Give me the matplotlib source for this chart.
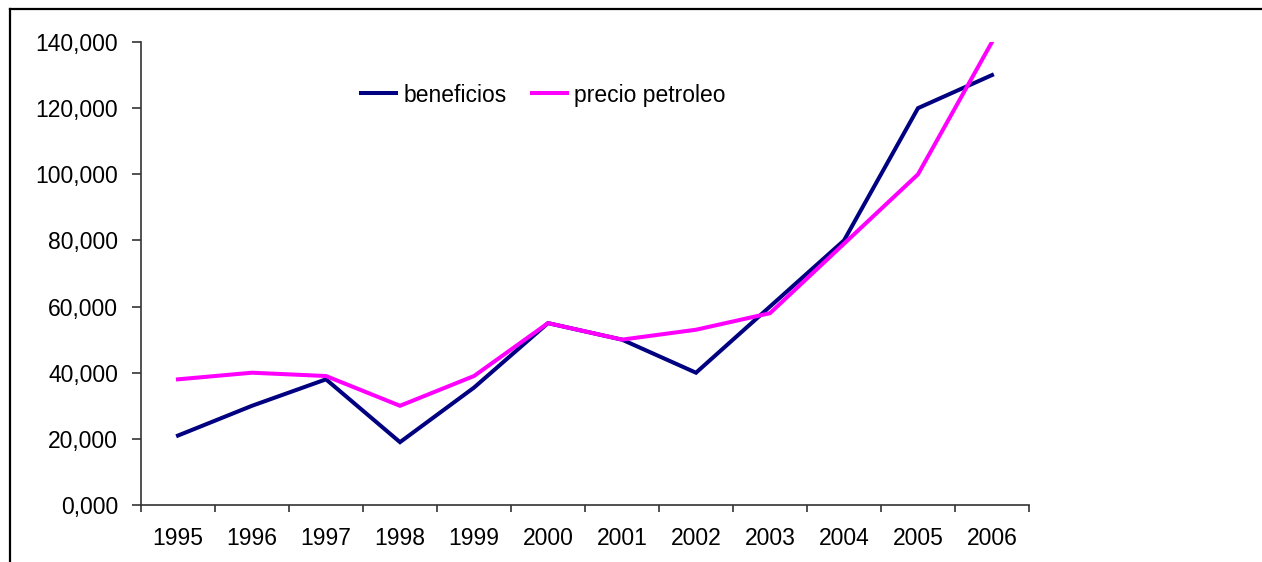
import matplotlib.pyplot as plt
from matplotlib.lines import Line2D
from matplotlib.ticker import FuncFormatter

# datos (eje en miles, formato con coma decimal)
anios = ['1995', '1996', '1997', '1998', '1999', '2000',
         '2001', '2002', '2003', '2004', '2005', '2006']
beneficios = [21, 30, 38, 19, 35.5, 55, 50, 40, 60, 80, 120, 130]
precio_petroleo = [38, 40, 39, 30, 39, 55, 50, 53, 58, 79, 100, 140]

plt.rcParams['font.family'] = ['Liberation Sans', 'DejaVu Sans']
fs = 16.5

W, H = 1262, 562
fig = plt.figure(figsize=(W / 100, H / 100), dpi=100)
ax = fig.add_axes([141 / W, (H - 505) / H, (1029 - 141) / W, (505 - 42) / H])

x = [i + 0.5 for i in range(len(anios))]
ax.plot(x, beneficios, color='#000080', lw=2.9, label='beneficios', solid_joinstyle='miter')
ax.plot(x, precio_petroleo, color='#FF00FF', lw=2.9, label='precio petroleo', solid_joinstyle='miter')

ax.set_xlim(0, len(anios))
ax.set_ylim(0, 140)
ax.set_yticks(range(0, 141, 20))
ax.yaxis.set_major_formatter(FuncFormatter(lambda v, p: f'{v:.3f}'.replace('.', ',')))

# ticks en los limites de categoria, etiquetas en el centro
ax.set_xticks(range(len(anios) + 1))
ax.set_xticklabels([])
ax.set_xticks(x, minor=True)
ax.set_xticklabels(anios, minor=True)
ax.tick_params(axis='x', which='major', direction='out', length=5, width=1.2, color='#333333')
ax.tick_params(axis='x', which='minor', length=0, pad=16, labelsize=fs)
ax.tick_params(axis='y', direction='out', length=6.5, width=1.2, color='#333333', pad=10, labelsize=fs)

for s in ['top', 'right']:
    ax.spines[s].set_visible(False)
for s in ['left', 'bottom']:
    ax.spines[s].set_color('#333333')
    ax.spines[s].set_linewidth(1.2)

ax.legend(loc='center left', bbox_to_anchor=(0.2477, 0.8855), ncol=2, frameon=False,
          fontsize=fs, handlelength=1.55, handletextpad=0.3, columnspacing=1.1,
          borderpad=0, borderaxespad=0)

# marco exterior (solo izquierda y arriba visibles)
fig.add_artist(Line2D([9.5 / W, 9.5 / W], [0, 1 - 9 / H], color='black', lw=1.6, transform=fig.transFigure))
fig.add_artist(Line2D([9.5 / W, 1], [1 - 9 / H, 1 - 9 / H], color='black', lw=1.6, transform=fig.transFigure))

fig.savefig('out.png', dpi=100)
